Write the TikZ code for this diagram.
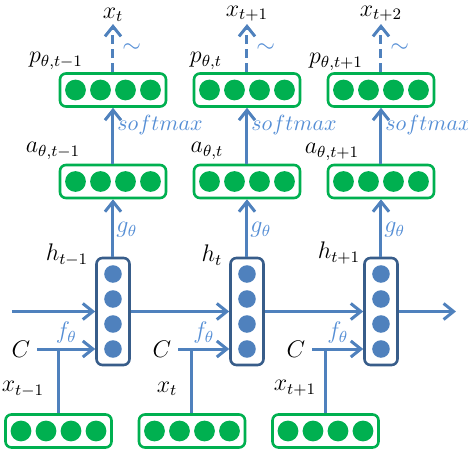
\documentclass[tikz,border=0pt]{standalone}
\usepackage{amsmath,amssymb}
\usetikzlibrary{arrows.meta}

\definecolor{cellgreen}{RGB}{0,176,80}
\definecolor{linkblue}{RGB}{79,129,189}
\definecolor{hiddenedge}{RGB}{56,93,138}
\definecolor{fnblue}{RGB}{85,142,213}

\tikzset{
  vecbox/.style={draw=cellgreen, line width=1.3pt, rounded corners=3pt,
    minimum width=53pt, minimum height=16.5pt, inner sep=0pt},
  hidbox/.style={draw=hiddenedge, line width=1.3pt, rounded corners=3pt,
    minimum width=16.5pt, minimum height=53.5pt, inner sep=0pt},
  link/.style={linkblue, line width=1.5pt},
  arr/.style={link, -{Straight Barb[length=5pt,width=8pt]}},
  sample/.style={arr, dash pattern=on 4.5pt off 2.5pt},
  fn/.style={text=fnblue, inner sep=1pt},
  smax/.style={fn, inner sep=0.5pt, font=\fontsize{11.2}{13}\selectfont},
  lbl/.style={inner sep=0.5pt},
}

% a row of four cells, and a column of four cells
\newcommand{\vecrow}[2]{%
  \node[vecbox] (#1) at (#2) {};
  \foreach \k in {-37.5,-12.5,12.5,37.5}
    \fill[cellgreen] (#1) ++(\k,0) circle (5.2pt);
}
\newcommand{\hidcol}[2]{%
  \node[hidbox] (#1) at (#2) {};
  \foreach \k in {-37.5,-12.5,12.5,37.5}
    \fill[linkblue] (#1) ++(0,\k) circle (4.4pt);
}

\begin{document}
\begin{tikzpicture}[x=0.5pt, y=-0.5pt, font=\large]
    \useasboundingbox (0,0) rectangle (468,450);

    \vecrow{p1}{113,90}
    \vecrow{p2}{247,90}
    \vecrow{p3}{381,90}
    \vecrow{a1}{113,181.5}
    \vecrow{a2}{247,181.5}
    \vecrow{a3}{381,181.5}
    \hidcol{h1}{113,311.5}
    \hidcol{h2}{247,311.5}
    \hidcol{h3}{381,311.5}
    \vecrow{x1}{58.5,431}
    \vecrow{x2}{192,431}
    \vecrow{x3}{325.5,431}

    %Outputs
    \node[anchor=south, inner sep=1pt] (o1) at (113,24) {$x_t$};
    \node[anchor=south, inner sep=1pt] (o2) at (247,24) {$x_{t+1}$};
    \node[anchor=south, inner sep=1pt] (o3) at (381,24) {$x_{t+2}$};
    \draw[sample] (p1.north) -- (o1.south)node[midway, right=3pt, fn]{$\sim$};
    \draw[sample] (p2.north) -- (o2.south)node[midway, right=3pt, fn]{$\sim$};
    \draw[sample] (p3.north) -- (o3.south)node[midway, right=3pt, fn]{$\sim$};

    \node[lbl] (pl1) at (56,61) {$p_{\theta,t-1}$};
    \node[lbl] (pl2) at (206,61) {$p_{\theta,t}$};
    \node[lbl] (pl3) at (336,62) {$p_{\theta,t+1}$};

    \draw[arr] (a1.north) -- (p1.south)node[pos=0.69, right=1pt, smax]{$softmax$};
    \draw[arr] (a2.north) -- (p2.south)node[pos=0.69, right=1pt, smax]{$softmax$};
    \draw[arr] (a3.north) -- (p3.south)node[pos=0.69, right=1pt, smax]{$softmax$};

    \node[lbl] (al1) at (53,151) {$a_{\theta,t-1}$};
    \node[lbl] (al2) at (207,151) {$a_{\theta,t}$};
    \node[lbl] (al3) at (332,152) {$a_{\theta,t+1}$};

    \draw[arr] (h1.north) -- (a1.south)node[midway, right, fn, yshift=-1pt]{$g_\theta$};
    \draw[arr] (h2.north) -- (a2.south)node[midway, right, fn, yshift=-1pt]{$g_\theta$};
    \draw[arr] (h3.north) -- (a3.south)node[midway, right, fn, yshift=-1pt]{$g_\theta$};

    \node[lbl] (hl1) at (67,255) {$h_{t-1}$};
    \node[lbl] (hl2) at (212,255) {$h_t$};
    \node[lbl] (hl3) at (339,253) {$h_{t+1}$};

    %Recurrence
    \coordinate (in) at (12,311.5);
    \coordinate (out) at (456,311.5);
    \draw[arr] (in) -- (h1.west);
    \draw[arr] (h1.east) -- (h2.west);
    \draw[arr] (h2.east) -- (h3.west);
    \draw[arr] (h3.east) -- (out);

    %Inputs
    \node (c1) at (21,349) {$C$};
    \node (c2) at (162,349) {$C$};
    \node (c3) at (296,349) {$C$};
    \draw[arr] (c1.east) -- (c1.east -| h1.west)node[midway, above, fn, yshift=1pt]{$f_\theta$};
    \draw[arr] (c2.east) -- (c2.east -| h2.west)node[midway, above, fn, yshift=1pt]{$f_\theta$};
    \draw[arr] (c3.east) -- (c3.east -| h3.west)node[midway, above, fn, yshift=1pt]{$f_\theta$};
    \draw[link] (x1.north) -- (x1.north |- c1.east);
    \draw[link] (x2.north) -- (x2.north |- c2.east);
    \draw[link] (x3.north) -- (x3.north |- c3.east);

    \node[lbl] (xl1) at (23,389) {$x_{t-1}$};
    \node[lbl] (xl2) at (167,389) {$x_t$};
    \node[lbl] (xl3) at (295,388) {$x_{t+1}$};
  \end{tikzpicture}
\end{document}
